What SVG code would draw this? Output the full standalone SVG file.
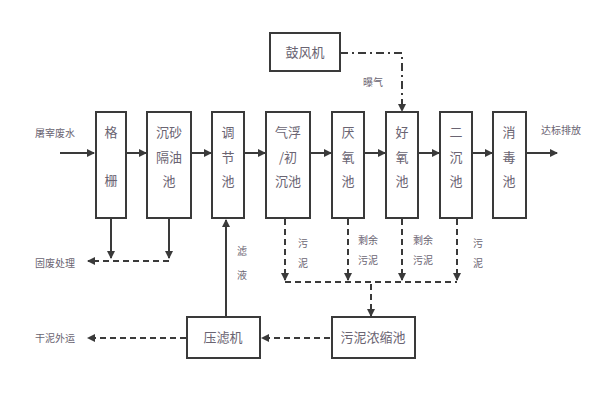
<svg xmlns="http://www.w3.org/2000/svg" width="600" height="400" viewBox="0 0 600 400">
<defs>
<marker id="ah" markerWidth="8" markerHeight="8" refX="7" refY="4" orient="auto" markerUnits="userSpaceOnUse">
<path d="M0,0 L8,4 L0,8 Z" fill="#3a3a3a"/>
</marker>
<style>
.box{fill:#fff;stroke:#3a3a3a;stroke-width:2}
.t{font-family:"Noto Sans CJK SC","Noto Sans CJK JP",sans-serif;font-size:13px;fill:#6a6472;text-anchor:middle}
.s{font-family:"Noto Sans CJK SC","Noto Sans CJK JP",sans-serif;font-size:10px;fill:#6a6472;text-anchor:middle}
.ln{fill:none;stroke:#3a3a3a;stroke-width:2}
.dl{fill:none;stroke:#3a3a3a;stroke-width:2;stroke-dasharray:6 4}
.dd{fill:none;stroke:#3a3a3a;stroke-width:2;stroke-dasharray:8 4 2 4}
</style>
</defs>
<rect width="600" height="400" fill="#fff"/>

<g id="connectors">
<line class="ln" x1="60" y1="153" x2="94" y2="153" marker-end="url(#ah)"/>
<line class="ln" x1="126" y1="153" x2="146" y2="153" marker-end="url(#ah)"/>
<line class="ln" x1="191" y1="153" x2="211" y2="153" marker-end="url(#ah)"/>
<line class="ln" x1="244" y1="153" x2="265" y2="153" marker-end="url(#ah)"/>
<line class="ln" x1="310" y1="153" x2="331" y2="153" marker-end="url(#ah)"/>
<line class="ln" x1="364" y1="153" x2="385" y2="153" marker-end="url(#ah)"/>
<line class="ln" x1="418" y1="153" x2="439" y2="153" marker-end="url(#ah)"/>
<line class="ln" x1="472" y1="153" x2="492" y2="153" marker-end="url(#ah)"/>
<line class="ln" x1="526" y1="153" x2="557" y2="153" marker-end="url(#ah)"/>
<polyline class="dd" points="340,53 402,53 402,111" marker-end="url(#ah)"/>
<line class="ln" x1="111" y1="219" x2="111" y2="258" marker-end="url(#ah)"/>
<line class="ln" x1="169" y1="219" x2="169" y2="258" marker-end="url(#ah)"/>
<polyline class="dl" points="169,261 88,261" marker-end="url(#ah)"/>
<line class="ln" x1="226" y1="317" x2="226" y2="220" marker-end="url(#ah)"/>
<line class="dl" x1="186" y1="338" x2="88" y2="338" marker-end="url(#ah)"/>
<line class="dl" x1="330" y1="338" x2="262" y2="338" marker-end="url(#ah)"/>
<line class="dl" x1="285" y1="219" x2="285" y2="280" marker-end="url(#ah)"/>
<line class="dl" x1="348" y1="219" x2="348" y2="280" marker-end="url(#ah)"/>
<line class="dl" x1="402" y1="219" x2="402" y2="280" marker-end="url(#ah)"/>
<line class="dl" x1="457" y1="219" x2="457" y2="280" marker-end="url(#ah)"/>
<line class="dl" x1="285" y1="282" x2="457" y2="282"/>
<line class="dl" x1="371" y1="284" x2="371" y2="316" marker-end="url(#ah)"/>
</g>

<g id="labels">
<text class="s" x="55" y="137">屠宰废水</text>
<text class="s" x="561" y="134">达标排放</text>
<text class="s" x="55" y="267">固废处理</text>
<text class="s" x="55" y="342">干泥外运</text>
<text class="s" x="373" y="86">曝气</text>
<text class="s" x="242" y="255">滤</text>
<text class="s" x="242" y="279">液</text>
<text class="s" x="303" y="247">污</text>
<text class="s" x="303" y="267">泥</text>
<text class="s" x="368" y="244">剩余</text>
<text class="s" x="368" y="264">污泥</text>
<text class="s" x="423" y="244">剩余</text>
<text class="s" x="423" y="264">污泥</text>
<text class="s" x="478" y="247">污</text>
<text class="s" x="478" y="267">泥</text>
</g>

<g id="n-blower"><rect class="box" x="270" y="33" width="70" height="38"/><text class="t" x="305" y="57">鼓风机</text></g>
<g id="n-grid"><rect class="box" x="96" y="112" width="30" height="106"/><text class="t" x="111" y="137">格</text><text class="t" x="111" y="185">栅</text></g>
<g id="n-sand"><rect class="box" x="147" y="112" width="44" height="106"/><text class="t" x="169" y="137">沉砂</text><text class="t" x="169" y="162">隔油</text><text class="t" x="169" y="186">池</text></g>
<g id="n-adjust"><rect class="box" x="212" y="112" width="32" height="106"/><text class="t" x="228" y="137">调</text><text class="t" x="228" y="162">节</text><text class="t" x="228" y="186">池</text></g>
<g id="n-float"><rect class="box" x="266" y="112" width="44" height="106"/><text class="t" x="288" y="137">气浮</text><text class="t" x="288" y="162">/初</text><text class="t" x="288" y="186">沉池</text></g>
<g id="n-anaerobic"><rect class="box" x="332" y="112" width="32" height="106"/><text class="t" x="348" y="137">厌</text><text class="t" x="348" y="162">氧</text><text class="t" x="348" y="186">池</text></g>
<g id="n-aerobic"><rect class="box" x="386" y="112" width="32" height="106"/><text class="t" x="402" y="137">好</text><text class="t" x="402" y="162">氧</text><text class="t" x="402" y="186">池</text></g>
<g id="n-second"><rect class="box" x="440" y="112" width="32" height="106"/><text class="t" x="456" y="137">二</text><text class="t" x="456" y="162">沉</text><text class="t" x="456" y="186">池</text></g>
<g id="n-disinfect"><rect class="box" x="493" y="112" width="33" height="106"/><text class="t" x="509" y="137">消</text><text class="t" x="509" y="162">毒</text><text class="t" x="509" y="186">池</text></g>
<g id="n-press"><rect class="box" x="187" y="317" width="73" height="41"/><text class="t" x="223" y="342">压滤机</text></g>
<g id="n-thicken"><rect class="box" x="332" y="317" width="83" height="41"/><text class="t" x="373" y="342">污泥浓缩池</text></g>
</svg>
